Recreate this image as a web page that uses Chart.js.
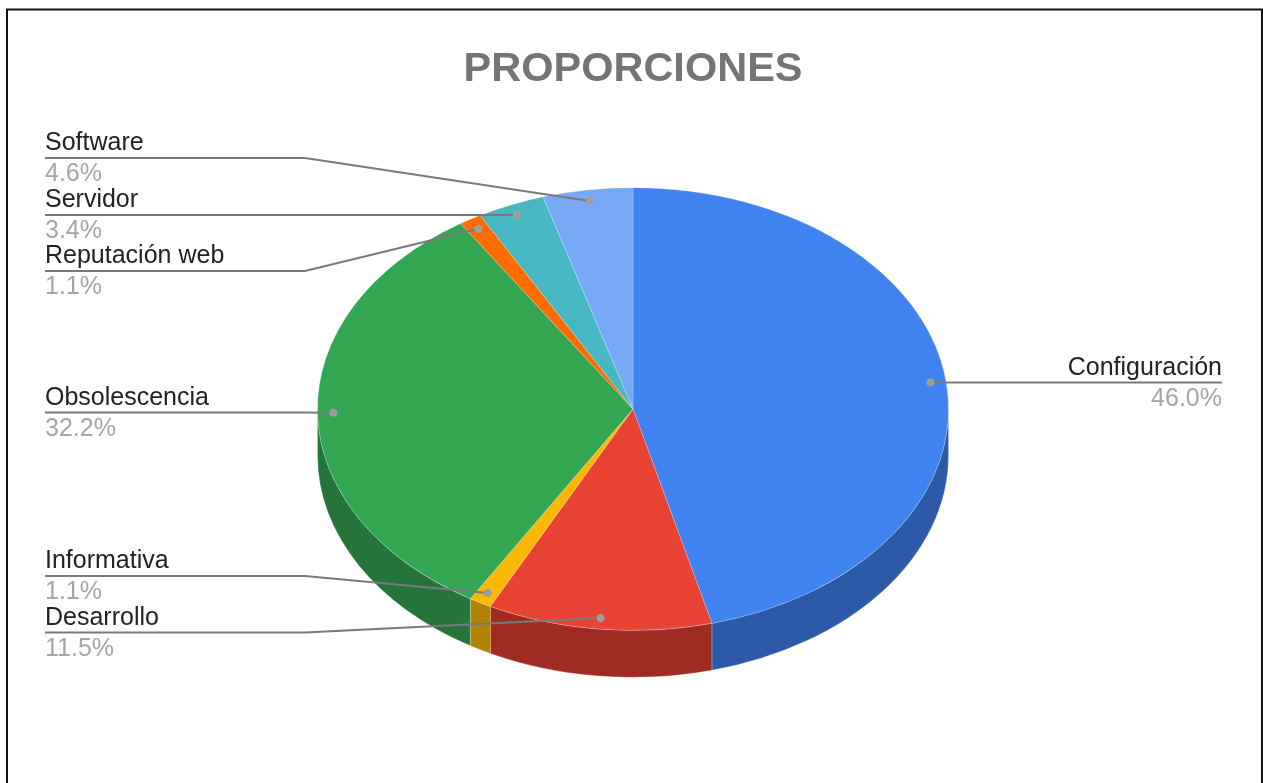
<!DOCTYPE html>
<html>
<head>
<meta charset="utf-8">
<title>PROPORCIONES</title>
<script src="https://cdn.jsdelivr.net/npm/chart.js@4"></script>
<style>
  html, body { margin: 0; padding: 0; background: #fff; overflow: hidden; }
  canvas { display: block; }
</style>
</head>
<body>
<canvas id="pie-chart" width="1263" height="783"></canvas>
<script>
// Data
var categories = ['Configuración', 'Desarrollo', 'Informativa', 'Obsolescencia', 'Reputación web', 'Servidor', 'Software'];
var counts = [40, 10, 1, 28, 1, 3, 4];
var percentLabels = ['46.0%', '11.5%', '1.1%', '32.2%', '1.1%', '3.4%', '4.6%'];

// Colours of the top face and of the side wall
var topColors = ['#4182F1', '#E84234', '#FCB702', '#32A651', '#FF6D01', '#47B8C2', '#76A8F5'];
var wallColors = ['#2C5AA8', '#9F2B21', '#B08300', '#25753A', '#B34D00', '#318489', '#5677AC'];

// Label placement: y of the leader line, per category
var labelLineY = [382.5, 632.5, 576, 412.5, 271, 215, 158];
var labelOnRight = [true, false, false, false, false, false, false];

var TILT = 221 / 315;
var DEPTH = 47;
var DOT_AT = 0.95;
var LEFT_X = 45;
var ELBOW_X = 305;
var RIGHT_X = 1222;

// Bottom half of the rim, between two angles, as a wall
function drawWall(ctx, el, from, to, color) {
  var rx = el.outerRadius;
  var ry = rx * TILT;
  ctx.beginPath();
  ctx.ellipse(el.x, el.y, rx, ry, 0, from, to);
  ctx.ellipse(el.x, el.y + DEPTH, rx, ry, 0, to, from, true);
  ctx.closePath();
  ctx.fillStyle = color;
  ctx.fill();
  ctx.strokeStyle = 'rgba(255,255,255,0.25)';
  ctx.lineWidth = 1;
  ctx.stroke();
}

var pie3d = {
  id: 'pie3d',
  beforeDatasetsDraw: function (chart) {
    var ctx = chart.ctx;
    var arcs = chart.getDatasetMeta(0).data;

    // Side wall first, only the part facing the viewer
    arcs.forEach(function (el, i) {
      [-2 * Math.PI, 0, 2 * Math.PI].forEach(function (shift) {
        var from = Math.max(el.startAngle + shift, 0);
        var to = Math.min(el.endAngle + shift, Math.PI);
        if (to > from) {
          drawWall(ctx, el, from, to, wallColors[i]);
        }
      });
    });

    // Squash the flat pie into an ellipse
    var c = arcs[0];
    ctx.save();
    ctx.translate(c.x, c.y);
    ctx.scale(1, TILT);
    ctx.translate(-c.x, -c.y);
  },
  afterDatasetsDraw: function (chart) {
    var ctx = chart.ctx;
    ctx.restore();

    chart.getDatasetMeta(0).data.forEach(function (el, i) {
      var mid = (el.startAngle + el.endAngle) / 2;
      var dotX = el.x + Math.cos(mid) * el.outerRadius * DOT_AT;
      var dotY = el.y + Math.sin(mid) * el.outerRadius * TILT * DOT_AT;
      var lineY = labelLineY[i];
      var right = labelOnRight[i];

      // Leader line
      ctx.beginPath();
      if (right) {
        ctx.moveTo(dotX, dotY);
        ctx.lineTo(RIGHT_X, lineY);
      } else {
        ctx.moveTo(LEFT_X, lineY);
        ctx.lineTo(ELBOW_X, lineY);
        ctx.lineTo(dotX, dotY);
      }
      ctx.strokeStyle = '#7a7a7a';
      ctx.lineWidth = 2;
      ctx.stroke();

      ctx.beginPath();
      ctx.arc(dotX, dotY, 4, 0, 2 * Math.PI);
      ctx.fillStyle = '#9e9e9e';
      ctx.fill();

      // Label text
      ctx.font = '25px "Liberation Sans", Arial, sans-serif';
      ctx.textAlign = right ? 'right' : 'left';
      ctx.textBaseline = 'alphabetic';
      ctx.fillStyle = '#222222';
      ctx.fillText(categories[i], right ? RIGHT_X : LEFT_X, lineY - 8);
      ctx.fillStyle = '#a5a5a5';
      ctx.fillText(percentLabels[i], right ? RIGHT_X : LEFT_X, lineY + 23);
    });

    // Frame, open at the bottom
    ctx.beginPath();
    ctx.moveTo(7, 783);
    ctx.lineTo(7, 9.5);
    ctx.lineTo(1262, 9.5);
    ctx.lineTo(1262, 783);
    ctx.strokeStyle = '#111111';
    ctx.lineWidth = 2;
    ctx.stroke();
  }
};

var pChart = document.getElementById('pie-chart');

var myPieChart = new Chart(pChart, {
  type: 'pie',
  data: {
    labels: categories,
    datasets: [{
      data: counts,
      backgroundColor: topColors,
      borderColor: 'rgba(255,255,255,0.25)',
      borderWidth: 1,
      hoverOffset: 0
    }]
  },
  options: {
    responsive: false,
    animation: false,
    events: [],
    layout: {
      padding: { left: 317, right: 314, top: 0, bottom: 58 }
    },
    plugins: {
      legend: { display: false },
      tooltip: { enabled: false },
      title: {
        display: true,
        text: 'PROPORCIONES',
        color: '#757575',
        font: { family: '"Liberation Sans", Arial, sans-serif', size: 41.5, weight: 'bold', lineHeight: 1.1 },
        padding: { top: 47, bottom: 0.35 }
      }
    }
  },
  plugins: [pie3d]
});
</script>
</body>
</html>
